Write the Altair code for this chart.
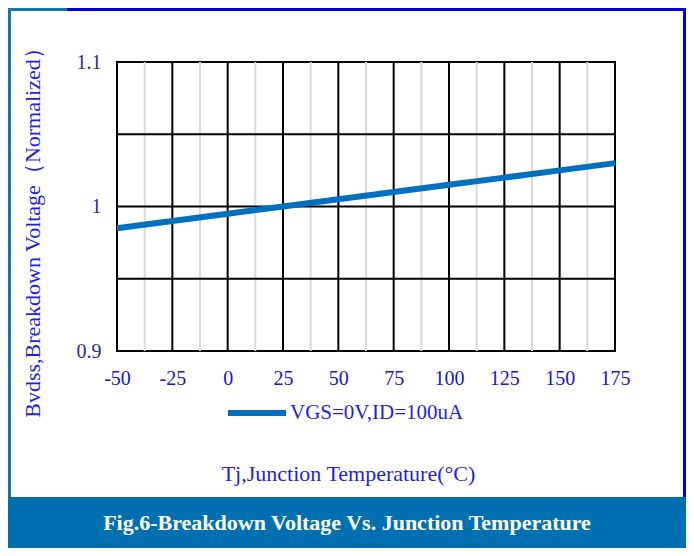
import altair as alt
import pandas as pd

# ---- data ----
temps = [-50, -25, 0, 25, 50, 75, 100, 125, 150, 175]
bvdss = [0.985, 0.990, 0.995, 1.000, 1.005, 1.010, 1.015, 1.020, 1.025, 1.030]
series_name = "VGS=0V,ID=100uA"

x_ticks = [-50, -25, 0, 25, 50, 75, 100, 125, 150, 175]
y_ticks = [0.9, 1.0, 1.1]
x_major = [-25, 0, 25, 50, 75, 100, 125, 150]
x_minor = [-37.5, -12.5, 12.5, 37.5, 62.5, 87.5, 112.5, 137.5, 162.5]
y_major = [0.95, 1.0, 1.05]

x_title = "Tj,Junction Temperature(°C)"
y_title = "Bvdss,Breakdown Voltage（Normalized）"
fig_caption = "Fig.6-Breakdown Voltage Vs. Junction Temperature"

# ---- styles ----
FONT = "Liberation Serif"
LINE_BLUE = "#0070C0"
BANNER = "#0070B0"
TEAL = "#1078A8"
FRAME_BLUE = "#0000EE"
XLBL = "#1414DC"
YLBL = "#2A2A96"
TITLE = "#1E1EF0"
W, H = 498, 289

xscale = alt.Scale(domain=[-50, 175], nice=False, zero=False)
yscale = alt.Scale(domain=[0.9, 1.1], nice=False, zero=False)

xaxis = alt.Axis(values=x_ticks, grid=False, domain=False, ticks=False,
                 labelExpr="datum.value < 0 ? '-' + abs(datum.value) : '' + datum.value",
                 labelFont=FONT, labelFontSize=20, labelColor=XLBL,
                 labelPadding=17, labelFlush=False, labelOverlap=False,
                 title=x_title, titleFont=FONT, titleFontSize=22,
                 titleFontWeight="normal", titleColor=TITLE,
                 titleX=231, titleY=122, titleAlign="center",
                 titleBaseline="middle")
yaxis = alt.Axis(values=y_ticks, format=".2~f", grid=False, domain=False,
                 ticks=False, labelFont=FONT, labelFontSize=20,
                 labelColor=YLBL, labelPadding=16, labelFlush=False,
                 labelOverlap=False,
                 title=y_title, titleFont=FONT, titleFontSize=22,
                 titleFontWeight="normal", titleColor=TITLE,
                 titleX=-85, titleY=165, titleAngle=270,
                 titleAlign="center", titleBaseline="middle")

xenc = alt.X("x:Q", scale=xscale, axis=xaxis)
yenc = alt.Y("y:Q", scale=yscale, axis=yaxis)

dummy = pd.DataFrame({"d": [0]})

def box(color, x1, x2, y1, y2):
    return alt.Chart(dummy).mark_rect(color=color).encode(
        x=alt.value(x1), x2=alt.value(x2), y=alt.value(y1), y2=alt.value(y2))

banner = box(BANNER, -109, 569, 435, 486)
left_border = box(TEAL, -109, -106, -54, 435)
top_teal = box(TEAL, -109, -50, -54, -51)
top_blue = box(FRAME_BLUE, -50, 569, -54, -51)
right_border = box(FRAME_BLUE, 566, 569, -54, 435)

minor = alt.Chart(pd.DataFrame({"x": x_minor})).mark_rule(
    color="#D9D9D9", strokeWidth=2).encode(x=xenc)
vmajor = alt.Chart(pd.DataFrame({"x": x_major})).mark_rule(
    color="black", strokeWidth=2).encode(x=xenc)
hmajor = alt.Chart(pd.DataFrame({"y": y_major})).mark_rule(
    color="black", strokeWidth=2).encode(y=yenc)

line_df = pd.DataFrame({"x": temps, "y": bvdss, "series": series_name})
line = alt.Chart(line_df).mark_line(strokeWidth=6).encode(
    x=xenc, y=yenc,
    color=alt.Color("series:N", scale=alt.Scale(range=[LINE_BLUE]),
                    legend=alt.Legend(orient="none", legendX=108, legendY=319,
                                      title=None, symbolType="stroke",
                                      symbolSize=3364, symbolStrokeWidth=6,
                                      labelFont=FONT, labelFontSize=21,
                                      labelColor=TITLE, labelOffset=1,
                                      labelLimit=400, padding=0)))

caption = alt.Chart(dummy).mark_text(
    font=FONT, fontSize=22, fontWeight="bold", color="white",
    align="center", baseline="middle").encode(
    x=alt.value(230), y=alt.value(461), text=alt.value(fig_caption))

chart = alt.layer(
    banner, left_border, top_teal, top_blue, right_border,
    minor, vmajor, hmajor, line, caption
).properties(
    width=W, height=H, autosize="none",
    padding={"left": 109, "top": 54, "right": 71, "bottom": 197},
    background="white"
).configure_view(stroke="black", strokeWidth=2)

chart.save("out.html", embed_options={"renderer": "svg", "actions": False})
